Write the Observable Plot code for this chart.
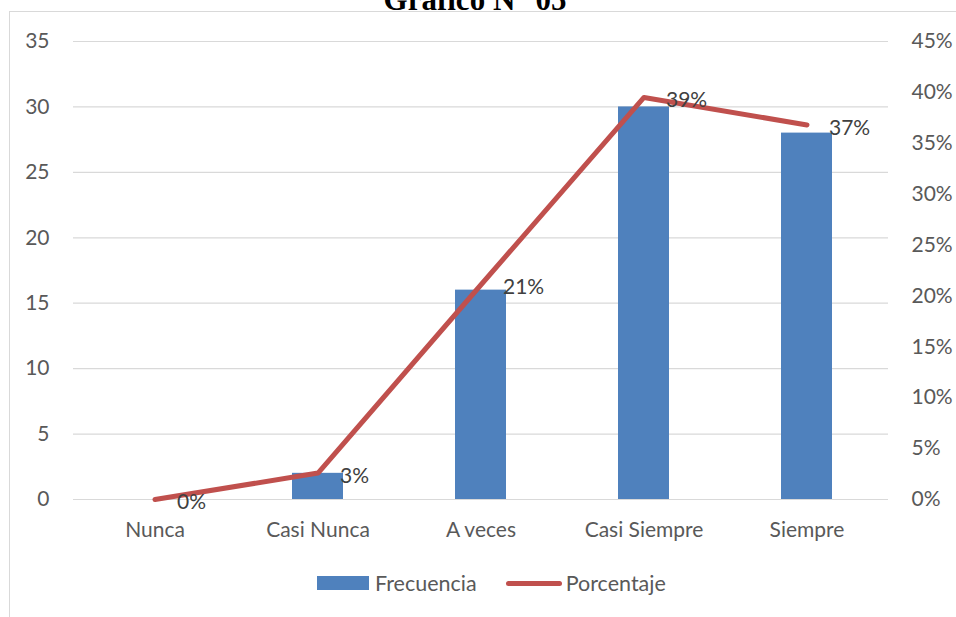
<!DOCTYPE html>
<html><head><meta charset="utf-8">
<script src="https://cdn.jsdelivr.net/npm/d3@7"></script>
<script src="https://cdn.jsdelivr.net/npm/@observablehq/plot@0.6"></script>
<style>
body{margin:0;background:#fff;}
#wrap{position:relative;width:956px;height:617px;overflow:hidden;background:#fff;font-family:Lato,sans-serif;}
#border{position:absolute;left:9px;top:11px;width:1000px;height:700px;border:1.5px solid #d9d9d9;box-sizing:border-box;}
#title{position:absolute;left:0;top:-16px;width:950px;text-align:center;font:bold 31px "Liberation Serif",serif;line-height:31px;color:#000;white-space:nowrap;}
#chart{position:absolute;left:0;top:0;}
#legend{position:absolute;left:317px;top:572px;height:22px;display:flex;align-items:center;font-size:21.5px;color:#595959;white-space:nowrap;}
#legend .sw{display:inline-block;width:52px;height:14px;background:#4f81bd;margin-right:6px;}
#legend .ln{display:inline-block;width:56px;height:5px;background:#c0504d;border-radius:3px;margin-left:29px;margin-right:4px;}
</style></head>
<body><div id="wrap">
<div id="border"></div>
<div id="title">Gráfico N° 05</div>
<div id="chart"></div>
<div id="legend"><span class="sw"></span><span>Frecuencia</span><span class="ln"></span><span>Porcentaje</span></div>
</div>
<script>
const categories = ["Nunca", "Casi Nunca", "A veces", "Casi Siempre", "Siempre"];
const frecuencia = [0, 2, 16, 30, 28];
const porcentaje = [0, 0.026, 0.211, 0.395, 0.368];
const porcentajeLabels = ["0%", "3%", "21%", "39%", "37%"];
const leftTicks = [0, 5, 10, 15, 20, 25, 30, 35];
const rightTicks = [0, 0.05, 0.10, 0.15, 0.20, 0.25, 0.30, 0.35, 0.40, 0.45];

const leftMax = 35, rightMax = 0.45;
const k = leftMax / rightMax;

const rows = categories.map((c, i) => ({
  cat: c, frec: frecuencia[i], pct: porcentaje[i], pctY: porcentaje[i] * k, label: porcentajeLabels[i]
}));

const fs = 21;
const chart = Plot.plot({
  width: 956,
  height: 560,
  marginLeft: 73,
  marginRight: 68,
  marginTop: 41,
  marginBottom: 61,
  style: {background: "transparent", fontFamily: "Lato, sans-serif", fontSize: fs + "px", color: "#595959"},
  x: {domain: categories, paddingInner: 0.687, paddingOuter: 0.3435, label: null},
  y: {domain: [0, leftMax], label: null},
  marks: [
    Plot.ruleY(leftTicks, {stroke: "#d9d9d9", strokeWidth: 1.2}),
    Plot.barY(rows, {x: "cat", y: "frec", fill: "#4f81bd"}),
    Plot.line(rows, {x: "cat", y: "pctY", stroke: "#c0504d", strokeWidth: 5, strokeLinecap: "round", strokeLinejoin: "round"}),
    Plot.text(rows, {x: "cat", y: "pctY", text: "label", textAnchor: "start", dx: 22, dy: 3, fill: "#404040", fontSize: fs}),
    Plot.axisY(leftTicks, {anchor: "left", tickSize: 0, tickPadding: 24, fill: "#595959", fontSize: fs, label: null}),
    Plot.axisY(rightTicks.map(t => t * k), {anchor: "right", tickSize: 0, tickPadding: 23, fill: "#595959", fontSize: fs, label: null,
      tickFormat: v => Math.round(v / k * 100) + "%"}),
    Plot.axisX({tickSize: 0, tickPadding: 23, fill: "#595959", fontSize: fs, label: null})
  ]
});
document.getElementById("chart").appendChild(chart);
</script>
</body></html>
